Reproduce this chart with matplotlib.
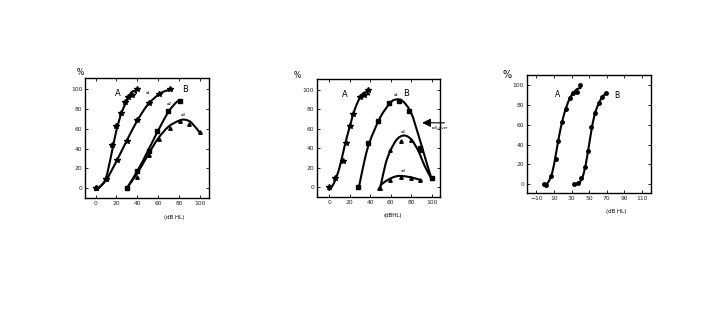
import numpy as np
import matplotlib
matplotlib.use("Agg")
import matplotlib.pyplot as plt
from matplotlib.path import Path
from matplotlib.patches import PathPatch

# ---------------- data ----------------
# Panel 1 markers
p1_a_x = [0, 10, 16, 20, 24, 28, 31, 35, 40]
p1_a_y = [0, 9, 44, 63, 76, 87, 92, 94, 100]
p1_c1_x = [0, 10, 21, 30, 40, 51, 61, 71]
p1_c1_y = [0, 9, 28, 48, 69, 86, 95, 100]
p1_c2_x = [30, 40, 51, 59, 70, 81]
p1_c2_y = [0, 17, 37, 58, 78, 88]
p1_c3_x = [30, 40, 51, 61, 71, 81, 90, 100]
p1_c3_y = [0, 11, 33, 50, 61, 68, 65, 57]
# Panel 1 fitted-curve trace
p1_a_fx = [0, 5, 10, 15, 20, 25, 30, 34, 37, 39]
p1_a_fy = [-2, 2, 10, 33, 58, 76, 88, 96, 98, 96]
p1_c1_fx = [0, 10, 20, 30, 40, 50, 60, 67, 72]
p1_c1_fy = [-2, 8, 27, 48, 68, 84, 94, 98, 99]
p1_c2_fx = [30, 40, 50, 60, 70, 78, 82]
p1_c2_fy = [0, 17, 37, 58, 77, 87, 88]
p1_c3_fx = [30, 40, 50, 60, 70, 80, 86, 92, 100]
p1_c3_fy = [0, 15, 33, 50, 62, 68, 69, 66, 56]

# Panel 2 markers
p2_a_x = [0, 6, 13, 16, 20, 23, 30, 34, 38]
p2_a_y = [0, 9, 27, 45, 63, 75, 93, 95, 100]
p2_b1_x = [28, 38, 48, 58, 68, 78, 89, 100]
p2_b1_y = [0, 45, 68, 86, 88, 78, 40, 9]
p2_b2_x = [49, 59, 70, 80, 90]
p2_b2_y = [-1, 38, 47, 48, 38]
p2_b3_x = [50, 59, 70, 80, 89]
p2_b3_y = [-1, 7, 10, 9, 7]
# Panel 2 fitted-curve trace
p2_a_fx = [0, 5, 10, 15, 20, 25, 30, 34, 37, 39]
p2_a_fy = [-3, 5, 20, 42, 62, 80, 92, 97, 97, 95]
p2_b1_fx = [29, 35, 40, 50, 60, 66, 72, 80, 88, 95, 100]
p2_b1_fy = [0, 30, 48, 72, 87, 90, 88, 76, 50, 25, 8]
p2_b2_fx = [50, 55, 60, 66, 73, 80, 87, 93, 100]
p2_b2_fy = [0, 24, 38, 49, 53, 49, 37, 22, 8]
p2_b3_fx = [50, 55, 60, 65, 70, 80, 90]
p2_b3_fy = [2, 6, 9, 11, 11.5, 10, 7]

# Panel 3 markers
p3_a_x = [-1, 1, 7, 12, 15, 19, 24, 28, 32, 36, 40]
p3_a_y = [0, -1, 8, 25, 44, 63, 76, 87, 92, 93, 100]
p3_b_x = [33, 37, 41, 45, 49, 52, 57, 61, 65, 69]
p3_b_y = [0, 1, 6, 17, 34, 58, 72, 82, 88, 92]
# Panel 3 fitted-curve trace
p3_a_fx = [-1, 4, 8, 12, 16, 20, 24, 28, 32, 36, 40]
p3_a_fy = [-2, 3, 12, 30, 50, 66, 78, 87, 92, 96, 97]
p3_b_fx = [34, 40, 44, 48, 52, 56, 60, 64, 68, 70]
p3_b_fy = [-1, 3, 12, 30, 52, 70, 80, 87, 91, 91]

ticks_010 = [0, 20, 40, 60, 80, 100]
p3_xticks = [-10, 10, 30, 50, 70, 90, 110]


def smooth(ax, xs, ys, lw=1.5):
    """Draw a smooth Catmull-Rom curve (as cubic Bezier path) through trace points."""
    p = list(zip(xs, ys))
    verts = [p[0]]
    codes = [Path.MOVETO]
    n = len(p)
    for i in range(n - 1):
        p0 = p[i - 1] if i > 0 else p[i]
        p1 = p[i]
        p2 = p[i + 1]
        p3 = p[i + 2] if i + 2 < n else p[i + 1]
        c1 = (p1[0] + (p2[0] - p0[0]) / 6, p1[1] + (p2[1] - p0[1]) / 6)
        c2 = (p2[0] - (p3[0] - p1[0]) / 6, p2[1] - (p3[1] - p1[1]) / 6)
        verts += [c1, c2, p2]
        codes += [Path.CURVE4] * 3
    ax.add_patch(PathPatch(Path(verts, codes), fill=False, lw=lw, color="black",
                           capstyle="round", joinstyle="round"))


def style(ax, xlim, ylim, xticks):
    ax.set_xlim(*xlim)
    ax.set_ylim(*ylim)
    ax.set_xticks(xticks)
    ax.set_yticks(ticks_010)
    ax.tick_params(direction="in", length=2, width=0.6, labelsize=4.3, pad=2,
                   top=True, right=True, colors="black", labelcolor="#222222")
    for s in ax.spines.values():
        s.set_linewidth(1.0)


fig = plt.figure(figsize=(7.09, 3.11), dpi=100)
fig.patch.set_facecolor("white")

ms = 2.8
# ---------------- Panel 1 ----------------
ax1 = fig.add_axes([0.120, 0.363, 0.175, 0.386])
style(ax1, (-10, 109), (-10, 111), ticks_010)
for fx, fy in [(p1_a_fx, p1_a_fy), (p1_c1_fx, p1_c1_fy), (p1_c2_fx, p1_c2_fy), (p1_c3_fx, p1_c3_fy)]:
    smooth(ax1, fx, fy)
ax1.plot(p1_a_x, p1_a_y, "*", color="black", ms=ms + 1, ls="none")
ax1.plot(p1_c1_x, p1_c1_y, "*", color="black", ms=ms + 1, ls="none")
ax1.plot(p1_c2_x, p1_c2_y, "s", color="black", ms=ms - 0.6, ls="none")
ax1.plot(p1_c3_x, p1_c3_y, "^", color="black", ms=ms - 0.3, ls="none")
ax1.text(21, 95, "A", fontsize=6, ha="center", va="center")
ax1.text(86, 99, "B", fontsize=6, ha="center", va="center")
ax1.text(51, 96, "a1", fontsize=3, ha="center", va="center")
ax1.text(71, 85, "a2", fontsize=3, ha="center", va="center")
ax1.text(84, 74, "a3", fontsize=3, ha="center", va="center")
ax1.text(-0.01, 1.05, "%", transform=ax1.transAxes, fontsize=5.5, ha="right", va="center")
ax1.text(0.72, -0.16, "(dB HL)", transform=ax1.transAxes, fontsize=4, ha="center", va="center")

# ---------------- Panel 2 ----------------
ax2 = fig.add_axes([0.447, 0.367, 0.1735, 0.379])
style(ax2, (-12, 108), (-10, 111), ticks_010)
for fx, fy in [(p2_a_fx, p2_a_fy), (p2_b1_fx, p2_b1_fy), (p2_b2_fx, p2_b2_fy), (p2_b3_fx, p2_b3_fy)]:
    smooth(ax2, fx, fy)
ax2.plot(p2_a_x, p2_a_y, "*", color="black", ms=ms + 1, ls="none")
ax2.plot(p2_b1_x, p2_b1_y, "s", color="black", ms=ms - 0.6, ls="none")
ax2.plot(p2_b2_x, p2_b2_y, "^", color="black", ms=ms - 0.3, ls="none")
ax2.plot(p2_b3_x, p2_b3_y, "^", color="black", ms=ms - 0.3, ls="none")
ax2.text(15.5, 95, "A", fontsize=6, ha="center", va="center")
ax2.text(75, 96, "B", fontsize=6, ha="center", va="center")
ax2.text(65, 95, "a1", fontsize=3, ha="center", va="center")
ax2.text(72, 57, "a2", fontsize=3, ha="center", va="center")
ax2.text(72, 17, "a3", fontsize=3, ha="center", va="center")
ax2.annotate("", xy=(88, 66), xytext=(115, 66), annotation_clip=False,
             arrowprops=dict(arrowstyle="-|>,head_length=0.5,head_width=0.25", lw=0.8, color="black"))
ax2.text(100, 61, "roll-over", fontsize=2.8, ha="left", va="center", clip_on=False)
ax2.text(-0.13, 1.03, "%", transform=ax2.transAxes, fontsize=5.5, ha="right", va="center")
ax2.text(0.62, -0.16, "(dBHL)", transform=ax2.transAxes, fontsize=4, ha="center", va="center")

# ---------------- Panel 3 ----------------
ax3 = fig.add_axes([0.743, 0.379, 0.175, 0.379])
style(ax3, (-21, 120), (-9, 110), p3_xticks)
smooth(ax3, p3_a_fx, p3_a_fy)
smooth(ax3, p3_b_fx, p3_b_fy)
ax3.plot(p3_a_x, p3_a_y, "o", color="black", ms=ms - 0.3, ls="none")
ax3.plot(p3_b_x, p3_b_y, "o", color="black", ms=ms - 0.3, ls="none")
ax3.text(14, 91, "A", fontsize=5.5, ha="center", va="center")
ax3.text(81, 90, "B", fontsize=5.5, ha="center", va="center")
ax3.text(-0.12, 1.0, "%", transform=ax3.transAxes, fontsize=7, ha="right", va="center")
ax3.text(0.72, -0.16, "(dB HL)", transform=ax3.transAxes, fontsize=4, ha="center", va="center")

fig.savefig("out.png", dpi=100, facecolor="white")
